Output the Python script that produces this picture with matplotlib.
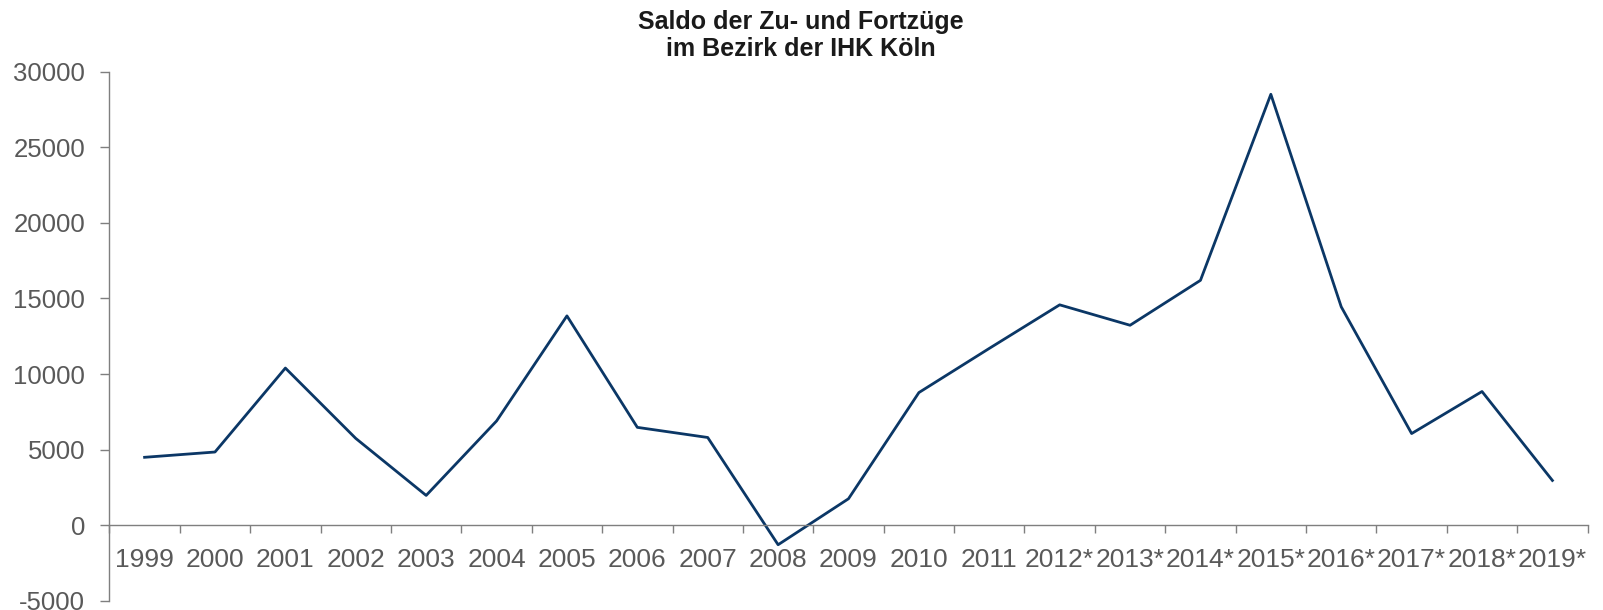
import numpy as np
import matplotlib.pyplot as plt

plt.rcParams['font.family'] = ['Liberation Sans', 'DejaVu Sans']
plt.rcParams['axes.unicode_minus'] = False

years = ['1999', '2000', '2001', '2002', '2003', '2004', '2005', '2006', '2007', '2008',
         '2009', '2010', '2011', '2012*', '2013*', '2014*', '2015*', '2016*', '2017*',
         '2018*', '2019*']
saldo = [4500, 4850, 10400, 5750, 1980, 6900, 13850, 6480, 5810, -1280,
         1760, 8780, 11700, 14580, 13230, 16200, 28500, 14450, 6070,
         8850, 2970]

line_color = '#0b3766'
text_color = '#595959'
spine_color = '#7f7f7f'

fig = plt.figure(figsize=(16.03, 6.10), dpi=100)
ax = fig.add_axes([109.4 / 1603, 9 / 610, (1587.6 - 109.4) / 1603, (601 - 71.6) / 610])

x = np.arange(len(years))
ax.plot(x, saldo, color=line_color, linewidth=2.0)

ax.set_xlim(-0.5, len(years) - 0.5)
ax.set_ylim(-5000, 30000)
ax.set_yticks(np.arange(-5000, 30001, 5000))

# x axis sits on zero, ticks between the categories, labels at the centres
ax.spines['bottom'].set_position(('data', 0))
ax.spines['top'].set_visible(False)
ax.spines['right'].set_visible(False)
for s in ['bottom', 'left']:
    ax.spines[s].set_color(spine_color)
    ax.spines[s].set_linewidth(1.0)

ax.set_xticks(np.arange(-0.5, len(years), 1.0))
ax.set_xticklabels([])
ax.set_xticks(x, minor=True)
ax.set_xticklabels(years, minor=True)
ax.tick_params(axis='x', which='major', direction='out', length=6, color=spine_color, width=1)
ax.tick_params(axis='x', which='minor', length=0, pad=16, labelsize=19, labelcolor=text_color)
ax.tick_params(axis='y', direction='out', length=6.5, color=spine_color, width=1,
               pad=11, labelsize=18.5, labelcolor=text_color)

fig.text(0.4995, 1 - 29.3 / 610, 'Saldo der Zu- und Fortzüge', ha='center', va='baseline',
         fontsize=18, fontweight='bold', color='#1a1a1a')
fig.text(0.4995, 1 - 56 / 610, 'im Bezirk der IHK Köln', ha='center', va='baseline',
         fontsize=18, fontweight='bold', color='#1a1a1a')

fig.savefig('out.png', dpi=100)
